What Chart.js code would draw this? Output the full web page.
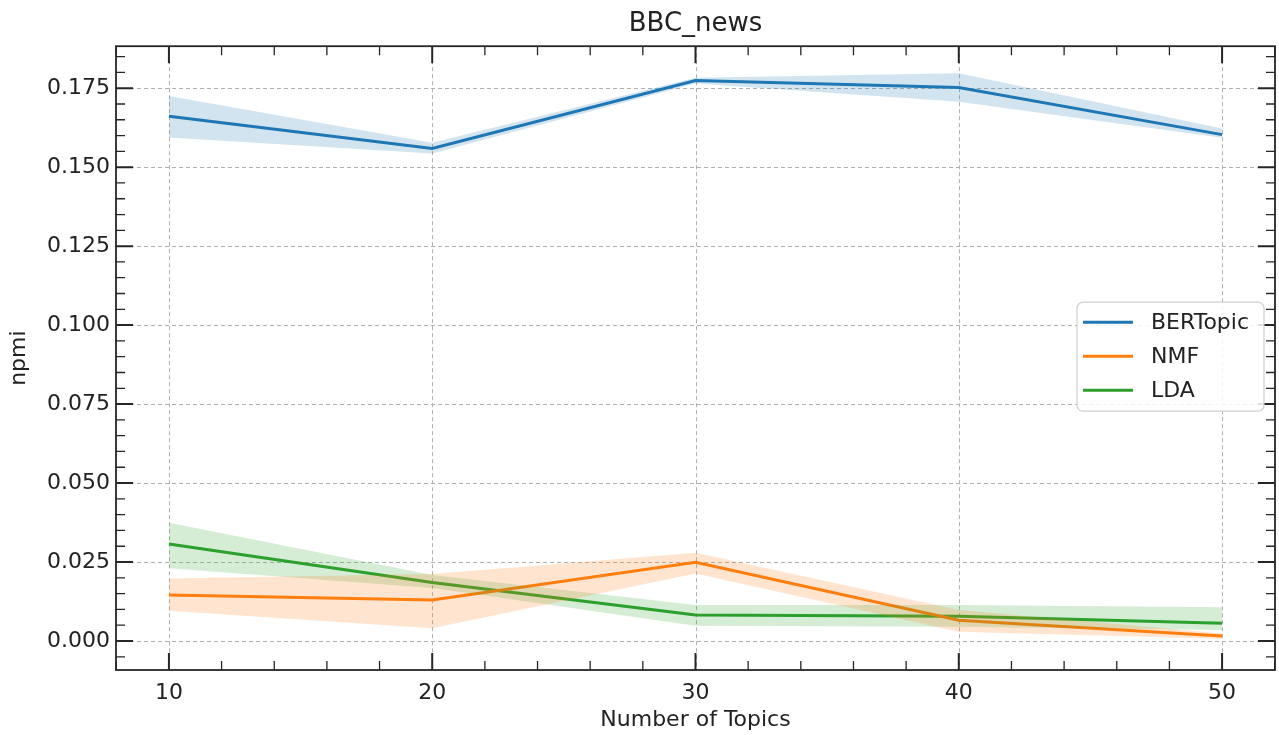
<!DOCTYPE html>
<html>
<head>
<meta charset="utf-8">
<title>BBC_news</title>
<script src="https://cdn.jsdelivr.net/npm/chart.js@4.4.1/dist/chart.umd.min.js"></script>
<style>
  html, body { margin: 0; padding: 0; background: #fff; }
  canvas { display: block; }
</style>
</head>
<body>
<canvas id="chart" width="1279" height="735"></canvas>
<script>
// Number of topics on the x axis
const topics = [10, 20, 30, 40, 50];

// npmi coherence: mean and the shaded spread around it
const bertopicMean  = [0.1661, 0.1559, 0.1774, 0.1752, 0.1603];
const bertopicUpper = [0.1725, 0.1577, 0.1783, 0.1797, 0.1622];
const bertopicLower = [0.1594, 0.1543, 0.1765, 0.1707, 0.1593];

const nmfMean  = [0.0146, 0.0130, 0.0249, 0.0066, 0.0016];
const nmfUpper = [0.0198, 0.0212, 0.0279, 0.0098, 0.0024];
const nmfLower = [0.0096, 0.0040, 0.0214, 0.0029, 0.0007];

const ldaMean  = [0.0307, 0.0185, 0.0082, 0.0078, 0.0056];
const ldaUpper = [0.0374, 0.0209, 0.0114, 0.0114, 0.0107];
const ldaLower = [0.0230, 0.0168, 0.0048, 0.0045, 0.0035];

// Axis ticks
const xTickValues = [10, 20, 30, 40, 50];
const yTickValues = [0.000, 0.025, 0.050, 0.075, 0.100, 0.125, 0.150, 0.175];

const FONT = "'DejaVu Sans', 'Liberation Sans', sans-serif";
const TEXT = '#222';

const series = [
  { label: 'BERTopic', mean: bertopicMean, upper: bertopicUpper, lower: bertopicLower, color: '#1f77b4', band: 'rgba(31,119,180,0.2)' },
  { label: 'NMF',      mean: nmfMean,      upper: nmfUpper,      lower: nmfLower,      color: '#ff7f0e', band: 'rgba(255,127,14,0.2)' },
  { label: 'LDA',      mean: ldaMean,      upper: ldaUpper,      lower: ldaLower,      color: '#2ca02c', band: 'rgba(44,160,44,0.2)' }
];

const pts = arr => topics.map((t, i) => ({ x: t, y: arr[i] }));

const datasets = [];
series.forEach(s => {
  datasets.push({ label: s.label + ' upper', isBand: true, data: pts(s.upper), borderWidth: 0, pointRadius: 0, fill: false, backgroundColor: s.band, borderColor: 'rgba(0,0,0,0)' });
  datasets.push({ label: s.label + ' lower', isBand: true, data: pts(s.lower), borderWidth: 0, pointRadius: 0, fill: '-1', backgroundColor: s.band, borderColor: 'rgba(0,0,0,0)' });
});
series.forEach(s => {
  datasets.push({ label: s.label, data: pts(s.mean), borderColor: s.color, backgroundColor: s.color, borderWidth: 3, pointRadius: 0, fill: false, tension: 0 });
});

// Minor tick positions between the labelled ones
function minorValues(scale, step) {
  const out = [];
  const start = Math.ceil(scale.min / step - 1e-9);
  for (let k = start; k * step <= scale.max + 1e-12; k++) out.push(k * step);
  return out;
}

// Dashed grid behind the data
const gridPlugin = {
  id: 'dashedGrid',
  beforeDatasetsDraw(chart) {
    const { ctx, chartArea: a, scales: { x, y } } = chart;
    ctx.save();
    ctx.strokeStyle = '#b0b0b0';
    ctx.lineWidth = 1;
    ctx.setLineDash([4, 3]);
    xTickValues.forEach(v => {
      const px = Math.round(x.getPixelForValue(v)) + 0.5;
      ctx.beginPath(); ctx.moveTo(px, a.top); ctx.lineTo(px, a.bottom); ctx.stroke();
    });
    yTickValues.forEach(v => {
      const py = Math.round(y.getPixelForValue(v)) + 0.5;
      ctx.beginPath(); ctx.moveTo(a.left, py); ctx.lineTo(a.right, py); ctx.stroke();
    });
    ctx.restore();
  }
};

// Frame with inward ticks on all four sides
const framePlugin = {
  id: 'frameTicks',
  afterDatasetsDraw(chart) {
    const { ctx, chartArea: a, scales: { x, y } } = chart;
    ctx.save();
    ctx.setLineDash([]);
    ctx.strokeStyle = '#262626';
    const majorLen = 17, minorLen = 9;
    const isMajor = (v, list) => list.some(m => Math.abs(m - v) < 1e-9);

    // x ticks (bottom and top)
    minorValues(x, 2).forEach(v => {
      const major = isMajor(v, xTickValues);
      const len = major ? majorLen : minorLen;
      ctx.lineWidth = major ? 2 : 1.3;
      const px = x.getPixelForValue(v);
      ctx.beginPath();
      ctx.moveTo(px, a.bottom); ctx.lineTo(px, a.bottom - len);
      ctx.moveTo(px, a.top); ctx.lineTo(px, a.top + len);
      ctx.stroke();
    });
    // y ticks (left and right)
    minorValues(y, 0.005).forEach(v => {
      const major = isMajor(v, yTickValues);
      const len = major ? majorLen : minorLen;
      ctx.lineWidth = major ? 2 : 1.3;
      const py = y.getPixelForValue(v);
      ctx.beginPath();
      ctx.moveTo(a.left, py); ctx.lineTo(a.left + len, py);
      ctx.moveTo(a.right, py); ctx.lineTo(a.right - len, py);
      ctx.stroke();
    });

    ctx.lineWidth = 1.8;
    ctx.strokeRect(a.left, a.top, a.right - a.left, a.bottom - a.top);
    ctx.restore();
  }
};

// Legend box inside the plot on the right
const legendPlugin = {
  id: 'insideLegend',
  afterDraw(chart) {
    const { ctx, chartArea: a } = chart;
    const entries = chart.data.datasets.filter(d => !d.isBand);
    const boxW = 187, rowH = 34, boxH = 109;
    const bx = a.right - 198, by = a.top + 256;
    ctx.save();
    ctx.beginPath();
    ctx.roundRect(bx, by, boxW, boxH, 6);
    ctx.fillStyle = 'rgba(255,255,255,0.85)';
    ctx.fill();
    ctx.strokeStyle = '#d0d0d0';
    ctx.lineWidth = 1.2;
    ctx.stroke();

    ctx.font = '22px ' + FONT;
    ctx.textBaseline = 'middle';
    ctx.textAlign = 'left';
    entries.forEach((d, i) => {
      const cy = by + 20 + i * rowH;
      ctx.strokeStyle = d.borderColor;
      ctx.lineWidth = 3;
      ctx.beginPath(); ctx.moveTo(bx + 6, cy); ctx.lineTo(bx + 56, cy); ctx.stroke();
      ctx.fillStyle = TEXT;
      ctx.fillText(d.label, bx + 74, cy + 1);
    });
    ctx.restore();
  }
};

new Chart(document.getElementById('chart'), {
  type: 'line',
  data: { datasets },
  options: {
    responsive: false,
    animation: false,
    devicePixelRatio: 1,
    events: [],
    layout: { padding: { left: 0, right: 4, top: 0, bottom: 0 } },
    plugins: {
      legend: { display: false },
      tooltip: { enabled: false },
      title: {
        display: true,
        fullSize: false,
        text: 'BBC_news',
        color: TEXT,
        font: { family: FONT, size: 26, weight: 'normal' },
        padding: { top: 9, bottom: 6 }
      }
    },
    scales: {
      x: {
        type: 'linear',
        min: 7.99,
        max: 52.01,
        afterFit: s => { s.height = 65; },
        afterBuildTicks: s => { s.ticks = xTickValues.map(v => ({ value: v })); },
        grid: { display: false, drawTicks: false },
        border: { display: false },
        ticks: {
          color: TEXT,
          padding: 10,
          maxRotation: 0,
          autoSkip: false,
          font: { family: FONT, size: 22 },
          callback: v => String(v)
        },
        title: {
          display: true,
          text: 'Number of Topics',
          color: TEXT,
          font: { family: FONT, size: 22 },
          padding: { top: 2, bottom: 2 }
        }
      },
      y: {
        type: 'linear',
        min: -0.00918,
        max: 0.18829,
        afterFit: s => { s.width = 116; },
        afterBuildTicks: s => { s.ticks = yTickValues.map(v => ({ value: v })); },
        grid: { display: false, drawTicks: false },
        border: { display: false },
        ticks: {
          color: TEXT,
          padding: 6,
          autoSkip: false,
          font: { family: FONT, size: 22 },
          callback: v => Number(v).toFixed(3)
        },
        title: {
          display: true,
          text: 'npmi',
          color: TEXT,
          font: { family: FONT, size: 22 },
          padding: { top: 6, bottom: 6 }
        }
      }
    }
  },
  plugins: [gridPlugin, framePlugin, legendPlugin]
});
</script>
</body>
</html>
